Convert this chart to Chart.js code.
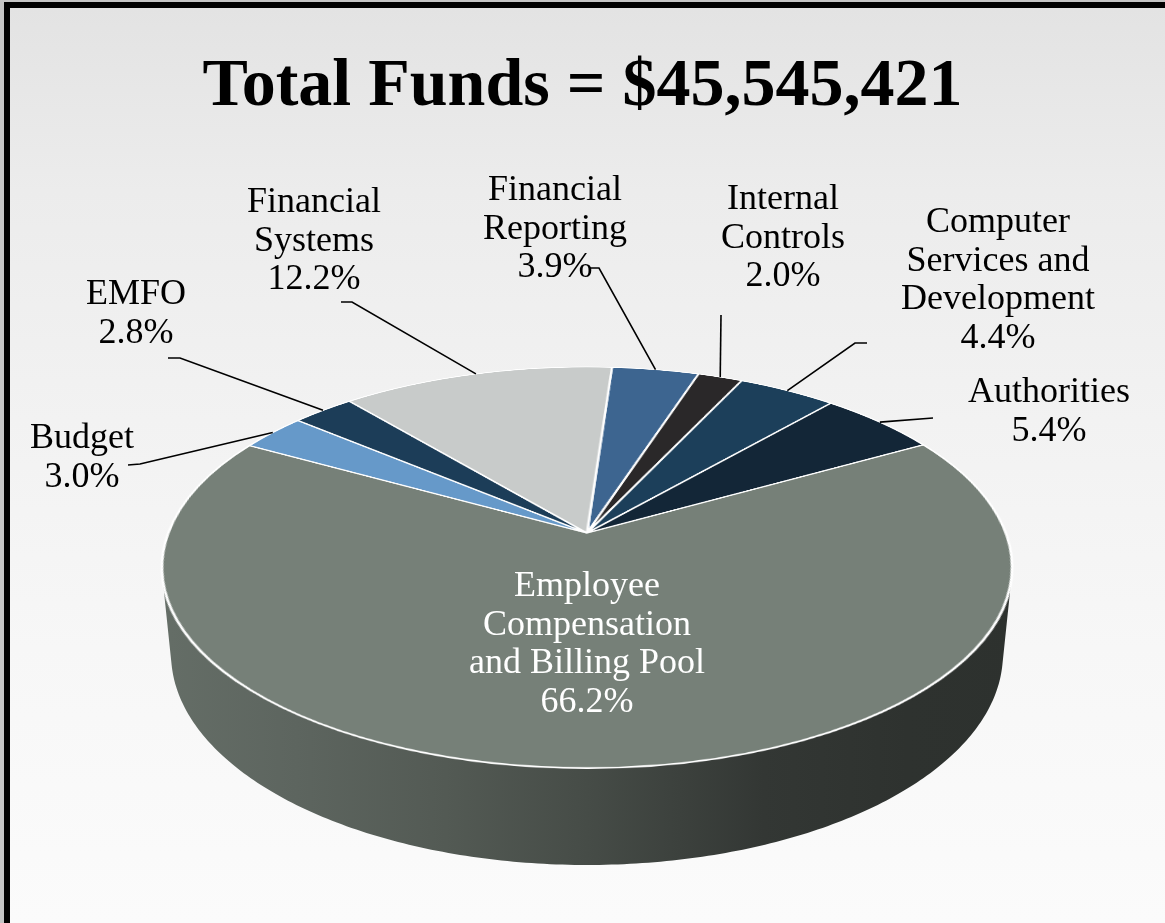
<!DOCTYPE html>
<html>
<head>
<meta charset="utf-8">
<script src="https://cdn.jsdelivr.net/npm/chart.js@4.4.1/dist/chart.umd.min.js"></script>
<style>
html,body{margin:0;padding:0;width:1165px;height:923px;overflow:hidden;background:#c4c4c4;}
#frame{position:absolute;left:4px;top:2px;width:1161px;height:921px;box-sizing:border-box;
  border-left:6px solid #000;border-top:6px solid #000;
  background:linear-gradient(to bottom,#e3e3e3 0%,#ececec 20%,#f2f2f2 45%,#f7f7f7 70%,#fbfbfb 100%);}
#c{position:absolute;left:0;top:0;}
</style>
</head>
<body>
<div id="frame"></div>
<canvas id="c" width="1165" height="923"></canvas>
<script>
// ---------- data ----------
const chartTitle = 'Total Funds = $45,545,421';
const categories = [
  'Financial Reporting',
  'Internal Controls',
  'Computer Services and Development',
  'Authorities',
  'Employee Compensation and Billing Pool',
  'Budget',
  'EMFO',
  'Financial Systems'
];
const values = [3.9, 2.0, 4.4, 5.4, 66.2, 3.0, 2.8, 12.2];
const labelLines = [
  ['Financial', 'Reporting'],
  ['Internal', 'Controls'],
  ['Computer', 'Services and', 'Development'],
  ['Authorities'],
  ['Employee', 'Compensation', 'and Billing Pool'],
  ['Budget'],
  ['EMFO'],
  ['Financial', 'Systems']
];

// ---------- styles / layout ----------
const sliceColors = ['#3d6590', '#2a2829', '#1c3f5a', '#132637', '#768078', '#6699c9', '#1c3d58', '#c8cbca'];
const labelLayout = [
  {x: 555, y: 200, color: '#000', leader: [[590, 268], [599, 268]]},
  {x: 783, y: 209, color: '#000', leader: [[721, 315]]},
  {x: 998, y: 232, color: '#000', leader: [[867, 343], [855, 343]]},
  {x: 1049, y: 402, color: '#000', leader: [[933, 418]]},
  {x: 587, y: 596, color: '#fff', leader: null},
  {x: 82, y: 448, color: '#000', leader: [[128, 465], [140, 464]]},
  {x: 136, y: 304, color: '#000', leader: [[168, 358], [180, 358]]},
  {x: 314, y: 212, color: '#000', leader: [[341, 302], [352, 302]]}
];
const LINE_H = 38.5;
const LABEL_FONT = "36px 'Liberation Serif', 'Times New Roman', serif";

// perspective view of the pie (tilted disc)
const VIEW = {cx: 587, cy: 533, sinT: 0.4648, cosT: 0.8854, D: 5.145, F: 2154.2, depth: 0.2355};
function project(u, v, H) {
  const yc = v * VIEW.sinT - H * VIEW.cosT;
  const Z = VIEW.D - v * VIEW.cosT - H * VIEW.sinT;
  return {x: VIEW.cx + VIEW.F * u / Z, y: VIEW.cy + VIEW.F * yc / Z};
}
function vOfY(y) {
  const d = y - VIEW.cy;
  return d * VIEW.D / (VIEW.F * VIEW.sinT + d * VIEW.cosT);
}
function hexRgb(h) {
  const n = parseInt(h.slice(1), 16);
  return [(n >> 16) & 255, (n >> 8) & 255, n & 255];
}
const WALL_SHADES = [[0, 0.86], [0.165, 0.79], [0.337, 0.70], [0.5, 0.59], [0.704, 0.43], [0.87, 0.39], [1, 0.38]];

function drawWall(ctx, s, e, color) {
  const n = Math.max(8, Math.ceil((e - s) * 80));
  ctx.beginPath();
  for (let j = 0; j <= n; j++) {
    const t = s + (e - s) * j / n;
    const p = project(Math.cos(t), Math.sin(t), 0);
    if (j === 0) ctx.moveTo(p.x, p.y); else ctx.lineTo(p.x, p.y);
  }
  for (let j = n; j >= 0; j--) {
    const t = s + (e - s) * j / n;
    const p = project(Math.cos(t), Math.sin(t), -VIEW.depth);
    ctx.lineTo(p.x, p.y);
  }
  ctx.closePath();
  const left = project(-1, 0.2, 0).x, right = project(1, 0.2, 0).x;
  const g = ctx.createLinearGradient(left, 0, right, 0);
  const rgb = hexRgb(color);
  WALL_SHADES.forEach(([p, k]) => {
    g.addColorStop(p, `rgb(${Math.round(rgb[0] * k)},${Math.round(rgb[1] * k)},${Math.round(rgb[2] * k)})`);
  });
  ctx.fillStyle = g;
  ctx.fill();
}

let offCanvas = null, realCtx = null;
const pie3d = {
  id: 'pie3d',
  beforeDatasetsDraw(chart) {
    if (!offCanvas) offCanvas = document.createElement('canvas');
    offCanvas.width = chart.canvas.width;
    offCanvas.height = chart.canvas.height;
    const oc = offCanvas.getContext('2d');
    oc.setTransform(chart.ctx.getTransform());
    realCtx = chart.ctx;
    chart.ctx = oc;
    chart.getSortedVisibleDatasetMetas().forEach(m => { m.controller._ctx = oc; });
  },
  afterDatasetsDraw(chart) {
    chart.ctx = realCtx;
    chart.getSortedVisibleDatasetMetas().forEach(m => { m.controller._ctx = realCtx; });
    const ctx = realCtx;
    const arcs = chart.getDatasetMeta(0).data;
    const cxS = arcs[0].x, cyS = arcs[0].y, Rs = arcs[0].outerRadius;
    ctx.save();
    // side walls (front part of the cylinder)
    const lo = Math.asin(1 / (VIEW.D * VIEW.cosT)), hi = Math.PI - lo;
    const TAU = Math.PI * 2;
    arcs.forEach((arc, i) => {
      for (let k = -2; k <= 2; k++) {
        const ss = Math.max(arc.startAngle + k * TAU, lo);
        const ee = Math.min(arc.endAngle + k * TAU, hi);
        if (ee > ss) drawWall(ctx, ss, ee, sliceColors[i]);
      }
    });
    // top face: perspective warp of the library-drawn pie, row by row
    const m = 1.012;
    const yTop = Math.floor(project(0, -m, 0).y), yBot = Math.ceil(project(0, m, 0).y);
    const dpr = chart.currentDevicePixelRatio || 1;
    ctx.setTransform(1, 0, 0, 1, 0, 0);
    for (let y = yTop; y < yBot; y++) {
      let v0 = Math.max(vOfY(y), -m), v1 = Math.min(vOfY(y + 1), m);
      if (v1 <= v0) continue;
      const dy0 = project(0, v0, 0).y, dy1 = project(0, v1, 0).y;
      const vm = (v0 + v1) / 2;
      const hw = VIEW.F / (VIEW.D - vm * VIEW.cosT);
      const sx = (cxS - m * Rs) * dpr, sw = 2 * m * Rs * dpr;
      const sy = (cyS + v0 * Rs) * dpr, sh = (v1 - v0) * Rs * dpr;
      ctx.drawImage(offCanvas, sx, sy, sw, sh, (VIEW.cx - m * hw) * dpr, dy0 * dpr, 2 * m * hw * dpr, (dy1 - dy0) * dpr);
    }
    ctx.restore();
  },
  afterDraw(chart) {
    const ctx = chart.ctx;
    const arcs = chart.getDatasetMeta(0).data;
    ctx.save();
    ctx.font = LABEL_FONT;
    ctx.textAlign = 'center';
    ctx.textBaseline = 'alphabetic';
    labelLayout.forEach((L, i) => {
      const lines = labelLines[i].concat([values[i].toFixed(1) + '%']);
      ctx.fillStyle = L.color;
      lines.forEach((t, j) => ctx.fillText(t, L.x, L.y + j * LINE_H));
      if (L.leader) {
        const mid = (arcs[i].startAngle + arcs[i].endAngle) / 2;
        const p = project(Math.cos(mid), Math.sin(mid), 0);
        ctx.beginPath();
        ctx.moveTo(L.leader[0][0], L.leader[0][1]);
        for (let k = 1; k < L.leader.length; k++) ctx.lineTo(L.leader[k][0], L.leader[k][1]);
        ctx.lineTo(p.x, p.y);
        ctx.strokeStyle = '#000';
        ctx.lineWidth = 1.6;
        ctx.stroke();
      }
    });
    ctx.restore();
  }
};

new Chart(document.getElementById('c'), {
  type: 'pie',
  data: {
    labels: categories,
    datasets: [{
      data: values,
      backgroundColor: sliceColors,
      borderColor: '#ffffff',
      borderWidth: 2.4,
      clip: false
    }]
  },
  options: {
    responsive: false,
    maintainAspectRatio: false,
    devicePixelRatio: 1,
    animation: false,
    events: [],
    rotation: 4,
    layout: {padding: {bottom: 14}},
    plugins: {
      legend: {display: false},
      tooltip: {enabled: false},
      title: {
        display: true,
        text: chartTitle,
        color: '#000',
        font: {family: "'Liberation Serif', 'Times New Roman', serif", size: 68, weight: 'bold'},
        padding: {top: 47, bottom: 10}
      }
    }
  },
  plugins: [pie3d]
});
</script>
</body>
</html>
